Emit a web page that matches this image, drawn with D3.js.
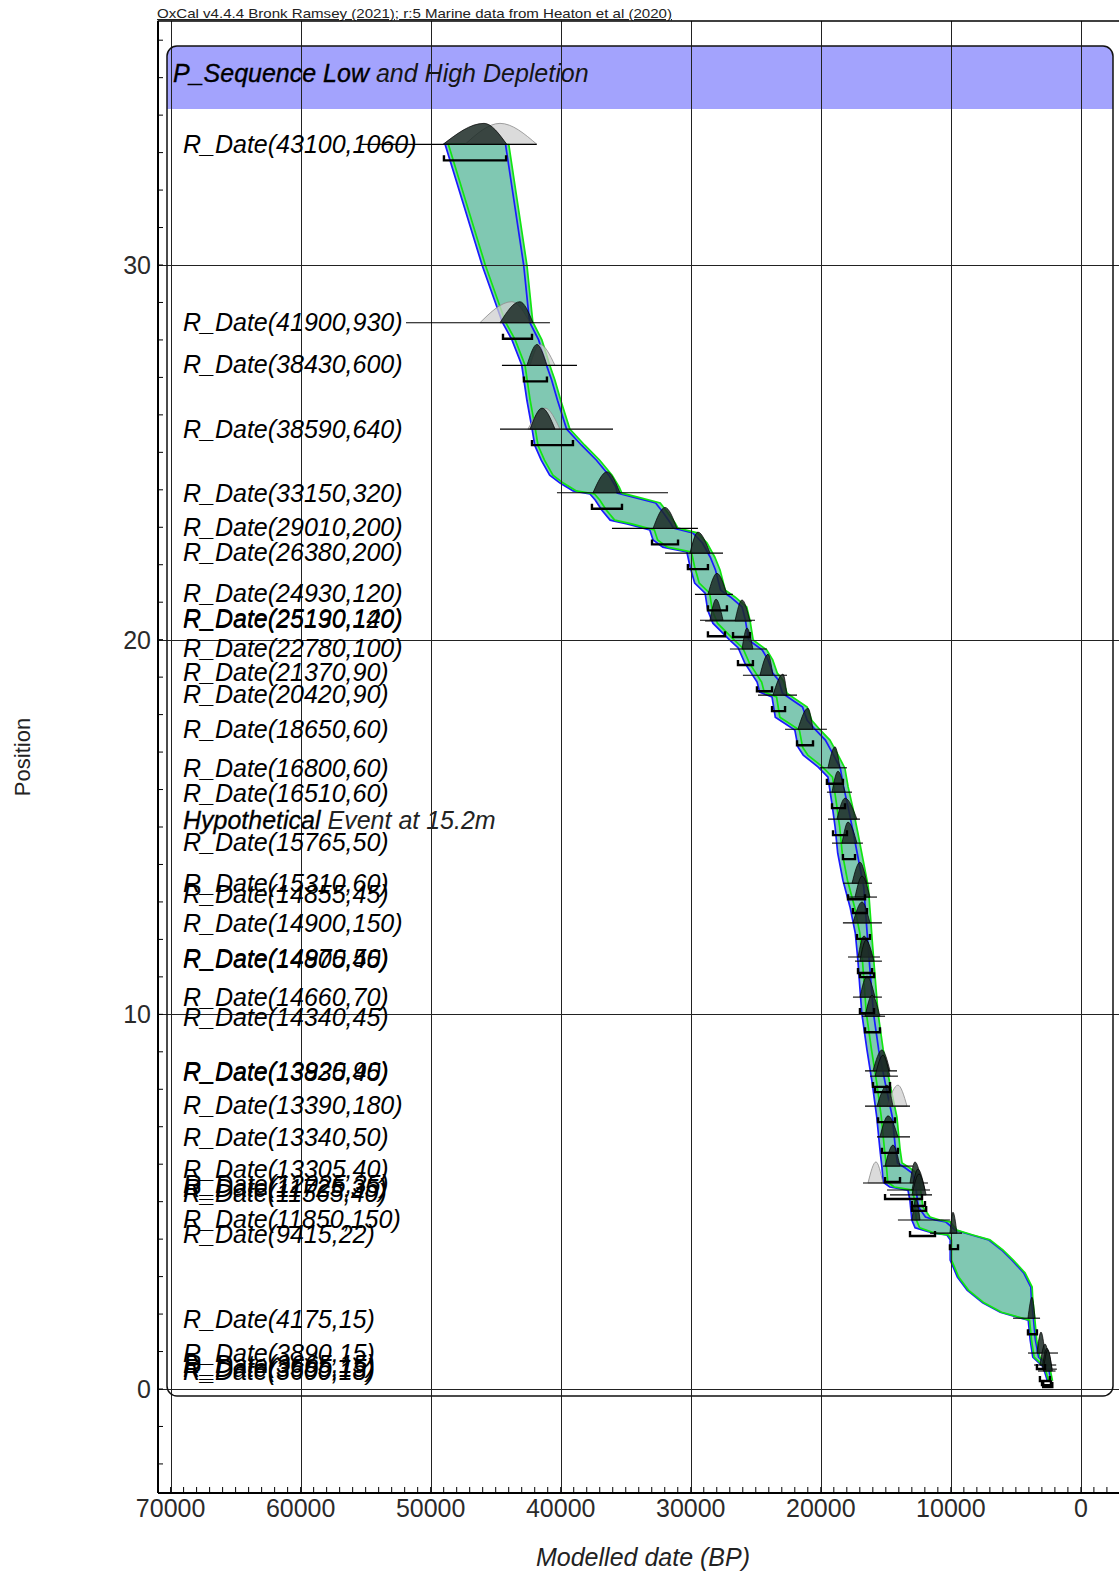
<!DOCTYPE html>
<html>
<head>
<meta charset="utf-8">
<script src="https://cdn.jsdelivr.net/npm/d3@7"></script>
<style>
  body { margin: 0; background: #fff; }
  svg { display: block; font-family: "Liberation Sans", Arial, sans-serif; }
</style>
</head>
<body>
<svg id="chart" width="1119" height="1573"></svg>
<script>
// ---------------- data ----------------
const xTickValues = [70000, 60000, 50000, 40000, 30000, 20000, 10000, 0];
const yTickValues = [0, 10, 20, 30];

// sample labels: text and depth position
const labelText = [
  "R_Date(43100,1060)", "R_Date(41900,930)", "R_Date(38430,600)", "R_Date(38590,640)",
  "R_Date(33150,320)", "R_Date(29010,200)", "R_Date(26380,200)", "R_Date(24930,120)",
  "R_Date(25190,140)", "R_Date(25130,120)", "R_Date(22780,100)", "R_Date(21370,90)",
  "R_Date(20420,90)", "R_Date(18650,60)", "R_Date(16800,60)", "R_Date(16510,60)",
  "R_Date(15765,50)", "R_Date(15310,60)", "R_Date(14855,45)", "R_Date(14900,150)",
  "R_Date(14970,50)", "R_Date(14805,45)", "R_Date(14660,70)", "R_Date(14340,45)",
  "R_Date(13920,90)", "R_Date(13835,45)", "R_Date(13390,180)", "R_Date(13340,50)",
  "R_Date(13305,40)", "R_Date(12025,35)", "R_Date(11725,35)", "R_Date(11565,40)",
  "R_Date(11850,150)", "R_Date(9415,22)", "R_Date(4175,15)", "R_Date(3890,15)",
  "R_Date(3665,15)", "R_Date(3585,15)", "R_Date(3600,18)"
];
const labelPos = [
  33.24, 28.47, 27.37, 25.63,
  23.92, 23.01, 22.34, 21.24,
  20.57, 20.55, 19.77, 19.15,
  18.56, 17.62, 16.58, 15.91,
  14.60, 13.50, 13.20, 12.43,
  11.50, 11.47, 10.47, 9.94,
  8.48, 8.45, 7.58, 6.72,
  5.87, 5.47, 5.36, 5.22,
  4.53, 4.15, 1.88, 0.96,
  0.66, 0.55, 0.49
];
const eventLabel = ["Hypothetical", " Event at 15.2m"];
const eventPos = 15.2;

// modelled distributions: depth, baseline extent, posterior shape, 95% range (ages in BP)
const distPos = [33.22, 28.46, 27.32, 25.62, 23.92, 22.97, 22.31, 21.21, 20.52, 20.50,
  19.75, 19.05, 18.52, 17.61, 16.58, 15.93, 15.21, 14.57, 13.50, 13.13,
  12.44, 11.53, 11.42, 10.46, 9.95, 8.49, 8.35, 7.55, 6.73, 5.95,
  5.50, 5.31, 5.18, 4.51, 4.16, 1.89, 0.96, 0.64, 0.53, 0.48];
const lineFrom = [55350, 51900, 44520, 44670, 40290, 36060, 31980, 29680, 29290, 28900,
  26990, 25990, 24830, 22750, 20060, 19530, 19450, 19140, 18300, 17990,
  18300, 17910, 17370, 17530, 16830, 16600, 16220, 16600, 15680, 15220,
  16760, 14910, 14680, 14070, 11600, 5220, 4070, 3600, 3450, 3300];
const lineTo = [41850, 40830, 38750, 35980, 31750, 29450, 27520, 26760, 25060, 25300,
  24140, 22600, 21830, 19530, 17990, 17600, 16990, 16760, 16060, 15680,
  15300, 15450, 15300, 15300, 15060, 14140, 14070, 13140, 13140, 12910,
  11760, 11600, 11450, 10070, 9140, 3140, 1760, 1900, 1850, 1950];
const postFrom = [49050, 44670, 42600, 42360, 37520, 32900, 30060, 28680, 28520, 26600,
  26060, 24680, 23680, 21760, 19450, 19140, 18760, 18370, 17600, 17370,
  17530, 17140, 16990, 16990, 16600, 15990, 15830, 15680, 15450, 15060,
  13140, 12990, 12990, 12990, 10070, 4070, 3380, 3150, 2990, 2900];
const postPeak = [45900, 43140, 41830, 41440, 36440, 31980, 29450, 27990, 28060, 26060,
  25680, 24060, 22910, 20990, 18910, 18680, 18140, 17910, 16990, 16830,
  16830, 16680, 16530, 16450, 16060, 15300, 15220, 14910, 14830, 14450,
  12760, 12530, 12450, 12680, 9840, 3760, 3070, 2760, 2610, 2550];
const postTo = [44150, 42130, 41060, 40440, 35440, 31060, 28520, 27220, 27520, 25450,
  25220, 23680, 22600, 20600, 18530, 18140, 17220, 17220, 16450, 16220,
  16220, 16060, 15910, 15830, 15450, 14680, 14680, 14450, 14070, 13910,
  12220, 11990, 11900, 12370, 9530, 3530, 2760, 2380, 2220, 2200];
const rangeFrom = [48980, 44440, 42830, 42210, 37600, 32980, 30220, 28680, 28680, 26750,
  26370, 24910, 23750, 21830, 19530, 19140, 19060, 18300, 17910, 17530,
  17220, 17140, 16990, 16990, 16600, 15990, 15830, 15600, 15300, 15060,
  15060, 12990, 12990, 13140, 10070, 4070, 3380, 3150, 2990, 2900];
const rangeTo = [44200, 42210, 41060, 39060, 35290, 30980, 28680, 27220, 27370, 25450,
  25220, 23750, 22750, 20600, 18300, 18140, 17990, 17370, 16600, 16450,
  16220, 16060, 15910, 15910, 15450, 14680, 14680, 14300, 14070, 13910,
  12220, 11990, 11900, 11220, 9450, 3380, 2760, 2380, 2300, 2200];

// unmodelled likelihoods that show beside the posteriors
const likePos = [33.22, 28.46, 27.32, 25.62, 7.55, 5.50];
const likeFrom = [47360, 46210, 42360, 42520, 14910, 16370];
const likePeak = [44670, 43750, 41600, 41210, 14070, 15760];
const likeTo = [41830, 42360, 40440, 40060, 13370, 15220];

// age-depth envelopes, [position, age BP]
const blueOlderEdge = [[33.23,48900],[30.00,46050],[28.48,44500],[28.00,43750],[27.33,43000],[26.39,42600],[25.62,42200],[25.19,42000],[24.79,41500],[24.39,40850],[24.18,40050],[23.97,39050],[23.89,37750],[23.73,37350],[23.46,36850],[23.19,36200],[23.09,34900],[22.93,33150],[22.66,32900],[22.47,32150],[22.34,30300],[21.94,30050],[21.51,29700],[21.24,28900],[20.79,28700],[20.44,28300],[19.99,27000],[19.78,26350],[19.38,25850],[18.87,24900],[18.60,24700],[18.47,23750],[17.93,23500],[17.59,22000],[17.13,21750],[16.92,21350],[16.60,20200],[16.33,19450],[15.64,19150],[15.00,18900],[14.30,18700],[13.58,18300],[12.86,17750],[12.17,17350],[11.45,17150],[10.73,17000],[10.03,16850],[9.05,16450],[8.17,16050],[7.26,15700],[6.38,15450],[5.92,15300],[5.52,15200],[5.39,14700],[5.31,13300],[5.04,13150],[4.51,13000],[4.30,12750],[4.16,11350],[4.11,10300],[3.98,10050],[3.44,10050],[2.99,9500],[2.64,8750],[2.30,7550],[2.05,6200],[1.92,4900],[1.84,4050],[1.31,3900],[0.85,3700],[0.59,2900],[0.24,2600]];
const greenOlderEdge = [[33.23,48650],[30.00,45800],[28.48,44250],[28.00,43500],[27.33,42750],[26.39,42350],[25.62,41950],[25.19,41750],[24.79,41250],[24.39,40600],[24.18,39800],[23.97,38800],[23.89,37400],[23.73,37000],[23.46,36500],[23.19,35850],[23.09,34550],[22.93,32800],[22.66,32550],[22.47,31800],[22.34,29950],[21.94,29700],[21.51,29350],[21.24,28550],[20.79,28350],[20.44,27950],[19.99,26650],[19.78,26000],[19.38,25500],[18.87,24550],[18.60,24350],[18.47,23400],[17.93,23150],[17.59,21650],[17.13,21400],[16.92,21000],[16.60,19850],[16.33,19100],[15.64,18800],[15.00,18550],[14.30,18350],[13.58,17950],[12.86,17400],[12.17,17000],[11.45,16800],[10.73,16650],[10.03,16500],[9.05,16100],[8.17,15700],[7.26,15350],[6.38,15100],[5.92,14950],[5.52,14850],[5.39,14350],[5.31,12950],[5.04,12800],[4.51,12650],[4.30,12400],[4.16,11250],[4.11,10200],[3.98,9950],[3.44,9950],[2.99,9400],[2.64,8650],[2.30,7450],[2.05,6100],[1.92,4800],[1.84,3950],[1.31,3800],[0.85,3600],[0.59,2800],[0.24,2500]];
const greenYoungerEdge = [[33.23,44000],[30.00,42600],[28.48,42150],[28.00,41450],[27.33,40850],[26.93,40450],[26.39,40000],[25.62,39300],[25.19,38150],[24.79,37000],[24.39,36050],[24.07,35500],[23.91,35300],[23.81,34150],[23.65,32350],[23.38,31750],[23.11,31200],[22.98,31000],[22.85,29500],[22.58,28750],[22.20,28150],[21.86,27750],[21.32,27350],[21.14,26600],[20.87,25700],[20.52,25450],[19.99,25200],[19.72,24150],[19.46,23700],[19.11,23350],[18.92,22900],[18.57,22600],[18.39,21850],[18.20,21050],[17.85,20700],[17.59,20050],[17.32,19300],[16.97,18750],[16.57,18150],[16.07,17900],[15.53,17550],[14.84,17150],[14.12,16750],[13.40,16350],[12.70,16200],[11.98,16050],[11.10,15850],[10.03,15600],[9.05,15200],[8.17,14700],[7.26,14150],[6.38,13900],[6.03,13750],[5.90,13150],[5.76,12600],[5.39,12350],[4.86,12150],[4.59,11600],[4.51,10850],[4.46,10050],[4.24,9550],[4.11,8300],[3.98,7000],[3.71,6000],[3.44,5200],[3.10,4300],[2.72,3750],[2.38,3700],[1.89,3550],[1.31,3400],[0.85,3150],[0.59,2400],[0.24,2200]];
const blueYoungerEdge = [[33.23,44250],[30.00,42850],[28.48,42400],[28.00,41700],[27.33,41100],[26.93,40700],[26.39,40250],[25.62,39550],[25.19,38400],[24.79,37250],[24.39,36300],[24.07,35750],[23.91,35650],[23.81,34500],[23.65,32700],[23.38,32100],[23.11,31550],[22.98,31350],[22.85,29850],[22.58,29100],[22.20,28500],[21.86,28100],[21.32,27700],[21.14,26950],[20.87,26050],[20.52,25800],[19.99,25550],[19.72,24500],[19.46,24050],[19.11,23700],[18.92,23250],[18.57,22950],[18.39,22200],[18.20,21400],[17.85,21050],[17.59,20400],[17.32,19650],[16.97,19100],[16.57,18500],[16.07,18250],[15.53,17900],[14.84,17500],[14.12,17100],[13.40,16700],[12.70,16550],[11.98,16400],[11.10,16200],[10.03,15950],[9.05,15550],[8.17,15050],[7.26,14500],[6.38,14250],[6.03,14100],[5.90,13500],[5.76,12950],[5.39,12700],[4.86,12500],[4.59,11950],[4.51,11200],[4.46,10400],[4.24,9650],[4.11,8400],[3.98,7100],[3.71,6100],[3.44,5300],[3.10,4400],[2.72,3850],[2.38,3800],[1.89,3650],[1.31,3500],[0.85,3250],[0.59,2500],[0.24,2300]];

const creditText = "OxCal v4.4.4 Bronk Ramsey (2021); r:5 Marine data from Heaton et al (2020)";
const groupTitleBold = "P_Sequence Low";
const groupTitleRest = " and High Depletion";

// ---------------- layout ----------------
const frameLeft = 158, frameTop = 21, frameBottom = 1493, frameRight = 1119;
const boxLeft = 167, boxTop = 46, boxRight = 1113, boxBottom = 1396, bandBottom = 109;
const labelX = 183;
const humpHeight = 21;
const rangeDrop = 16;

const svg = d3.select("#chart");
const x = d3.scaleLinear().domain([70000, 0]).range([170.6, 1080.9]);
const y = d3.scaleLinear().domain([0, 30]).range([1389, 265]);

// group box with header band
const defs = svg.append("defs");
defs.append("clipPath").attr("id", "boxclip")
  .append("rect").attr("x", boxLeft).attr("y", boxTop)
  .attr("width", boxRight - boxLeft).attr("height", boxBottom - boxTop).attr("rx", 10);
svg.append("rect").attr("x", boxLeft).attr("y", boxTop)
  .attr("width", boxRight - boxLeft).attr("height", bandBottom - boxTop)
  .attr("fill", "#a3a3fd").attr("clip-path", "url(#boxclip)");

// envelopes
function envelopePath(older, younger) {
  const pts = older.concat(younger.slice().reverse());
  return d3.line().x(d => x(d[1])).y(d => y(d[0])).curve(d3.curveLinear)(pts) + "Z";
}
const envBlue = envelopePath(blueOlderEdge, blueYoungerEdge);
const envGreen = envelopePath(greenOlderEdge, greenYoungerEdge);
svg.append("path").attr("d", envBlue).attr("fill", "#80c8b2");
svg.append("path").attr("d", envGreen).attr("fill", "#80c8b2");
svg.append("path").attr("d", envBlue).attr("fill", "none").attr("stroke", "#1a1aff").attr("stroke-width", 1.7);
svg.append("path").attr("d", envGreen).attr("fill", "none").attr("stroke", "#11e611").attr("stroke-width", 1.7);

// grid lines
const grid = svg.append("g").attr("stroke", "#222").attr("stroke-width", 1);
grid.selectAll("line.v").data(xTickValues).join("line")
  .attr("x1", d => Math.round(x(d)) + 0.5).attr("x2", d => Math.round(x(d)) + 0.5)
  .attr("y1", frameTop).attr("y2", frameBottom);
grid.selectAll("line.h").data(yTickValues).join("line")
  .attr("x1", frameLeft).attr("x2", frameRight)
  .attr("y1", d => Math.round(y(d)) + 0.5).attr("y2", d => Math.round(y(d)) + 0.5);

// box outline on top of band and grid
svg.append("rect").attr("x", boxLeft).attr("y", boxTop)
  .attr("width", boxRight - boxLeft).attr("height", boxBottom - boxTop).attr("rx", 10)
  .attr("fill", "none").attr("stroke", "#111").attr("stroke-width", 1.5);

// distributions
const idx = d3.range(distPos.length);
const hump = (from, peak, to, base) =>
  d3.area().x(d => x(d[0])).y0(base).y1(d => base - d[1] * humpHeight)
    .curve(d3.curveMonotoneX)([[from, 0], [peak, 1], [to, 0]]);

const likeG = svg.append("g");
d3.range(likePos.length).forEach(i => {
  likeG.append("path").attr("d", hump(likeFrom[i], likePeak[i], likeTo[i], y(likePos[i])))
    .attr("fill", "#cfcfcf").attr("fill-opacity", 0.75)
    .attr("stroke", "#8a8a8a").attr("stroke-width", 0.8);
});

const lineG = svg.append("g").attr("stroke", "#000").attr("stroke-width", 1.1);
lineG.selectAll("line").data(idx).join("line")
  .attr("x1", i => x(lineFrom[i])).attr("x2", i => x(lineTo[i]))
  .attr("y1", i => y(distPos[i])).attr("y2", i => y(distPos[i]));

const postG = svg.append("g");
idx.forEach(i => {
  postG.append("path").attr("d", hump(postFrom[i], postPeak[i], postTo[i], y(distPos[i])))
    .attr("fill", "#1c2a26").attr("fill-opacity", 0.85)
    .attr("stroke", "#000").attr("stroke-width", 0.7);
});

const rangeG = svg.append("g").attr("fill", "none").attr("stroke", "#000").attr("stroke-width", 2.4);
rangeG.selectAll("path").data(idx).join("path")
  .attr("d", i => {
    const by = y(distPos[i]) + rangeDrop, x1 = x(rangeFrom[i]), x2 = x(rangeTo[i]);
    return `M${x1},${by - 5}V${by}H${x2}V${by - 5}`;
  });

// labels
const lab = svg.append("g").attr("font-size", 25).attr("font-style", "italic").attr("fill", "#000");
lab.selectAll("text").data(labelText).join("text")
  .attr("x", labelX).attr("y", (d, i) => y(labelPos[i])).attr("dy", "0.36em")
  .text(d => d);
const ev = lab.append("text").attr("x", labelX).attr("y", y(eventPos)).attr("dy", "0.36em");
ev.append("tspan").attr("stroke", "#000").attr("stroke-width", 0.3).text(eventLabel[0]);
ev.append("tspan").attr("fill", "#222").text(eventLabel[1]);

const title = svg.append("text").attr("x", 173).attr("y", 82)
  .attr("font-size", 25).attr("font-style", "italic").attr("fill", "#000");
title.append("tspan").attr("stroke", "#000").attr("stroke-width", 0.35).text(groupTitleBold);
title.append("tspan").attr("fill", "#151515").text(groupTitleRest);

// credit line
svg.append("text").attr("x", 157).attr("y", 18).attr("font-size", 13)
  .attr("textLength", 515).attr("lengthAdjust", "spacingAndGlyphs")
  .attr("text-decoration", "underline").attr("fill", "#222").text(creditText);

// frame
const frame = svg.append("g").attr("stroke", "#000");
frame.append("line").attr("x1", frameLeft).attr("x2", frameLeft).attr("y1", frameTop).attr("y2", frameBottom).attr("stroke-width", 2);
frame.append("line").attr("x1", frameLeft).attr("x2", frameRight).attr("y1", frameTop).attr("y2", frameTop).attr("stroke-width", 1.6);
frame.append("line").attr("x1", frameLeft).attr("x2", frameRight).attr("y1", frameBottom).attr("y2", frameBottom).attr("stroke-width", 2.2);

// minor ticks
const xMinor = d3.range(-2000, 70001, 1000);
frame.selectAll("line.xm").data(xMinor).join("line")
  .attr("x1", d => x(d)).attr("x2", d => x(d))
  .attr("y1", frameBottom).attr("y2", frameBottom - 6).attr("stroke-width", 1);
const yMinor = d3.range(-2, 37, 1);
frame.selectAll("line.ym").data(yMinor).join("line")
  .attr("x1", frameLeft).attr("x2", frameLeft + 5)
  .attr("y1", d => y(d)).attr("y2", d => y(d)).attr("stroke-width", 1);

// tick labels
svg.append("g").attr("font-size", 25).attr("fill", "#2a2a2a").attr("text-anchor", "middle")
  .selectAll("text").data(xTickValues).join("text")
  .attr("x", d => x(d)).attr("y", frameBottom + 24).text(d => d);
svg.append("g").attr("font-size", 25).attr("fill", "#2a2a2a").attr("text-anchor", "end")
  .selectAll("text").data(yTickValues).join("text")
  .attr("x", frameLeft - 7).attr("y", d => y(d)).attr("dy", "0.36em").text(d => d);

// axis titles
svg.append("text").attr("x", 643).attr("y", 1566).attr("text-anchor", "middle")
  .attr("font-size", 25).attr("font-style", "italic").attr("fill", "#222").text("Modelled date (BP)");
svg.append("text").attr("transform", "translate(30,757) rotate(-90)").attr("text-anchor", "middle")
  .attr("font-size", 22).attr("fill", "#222").text("Position");
</script>
</body>
</html>
